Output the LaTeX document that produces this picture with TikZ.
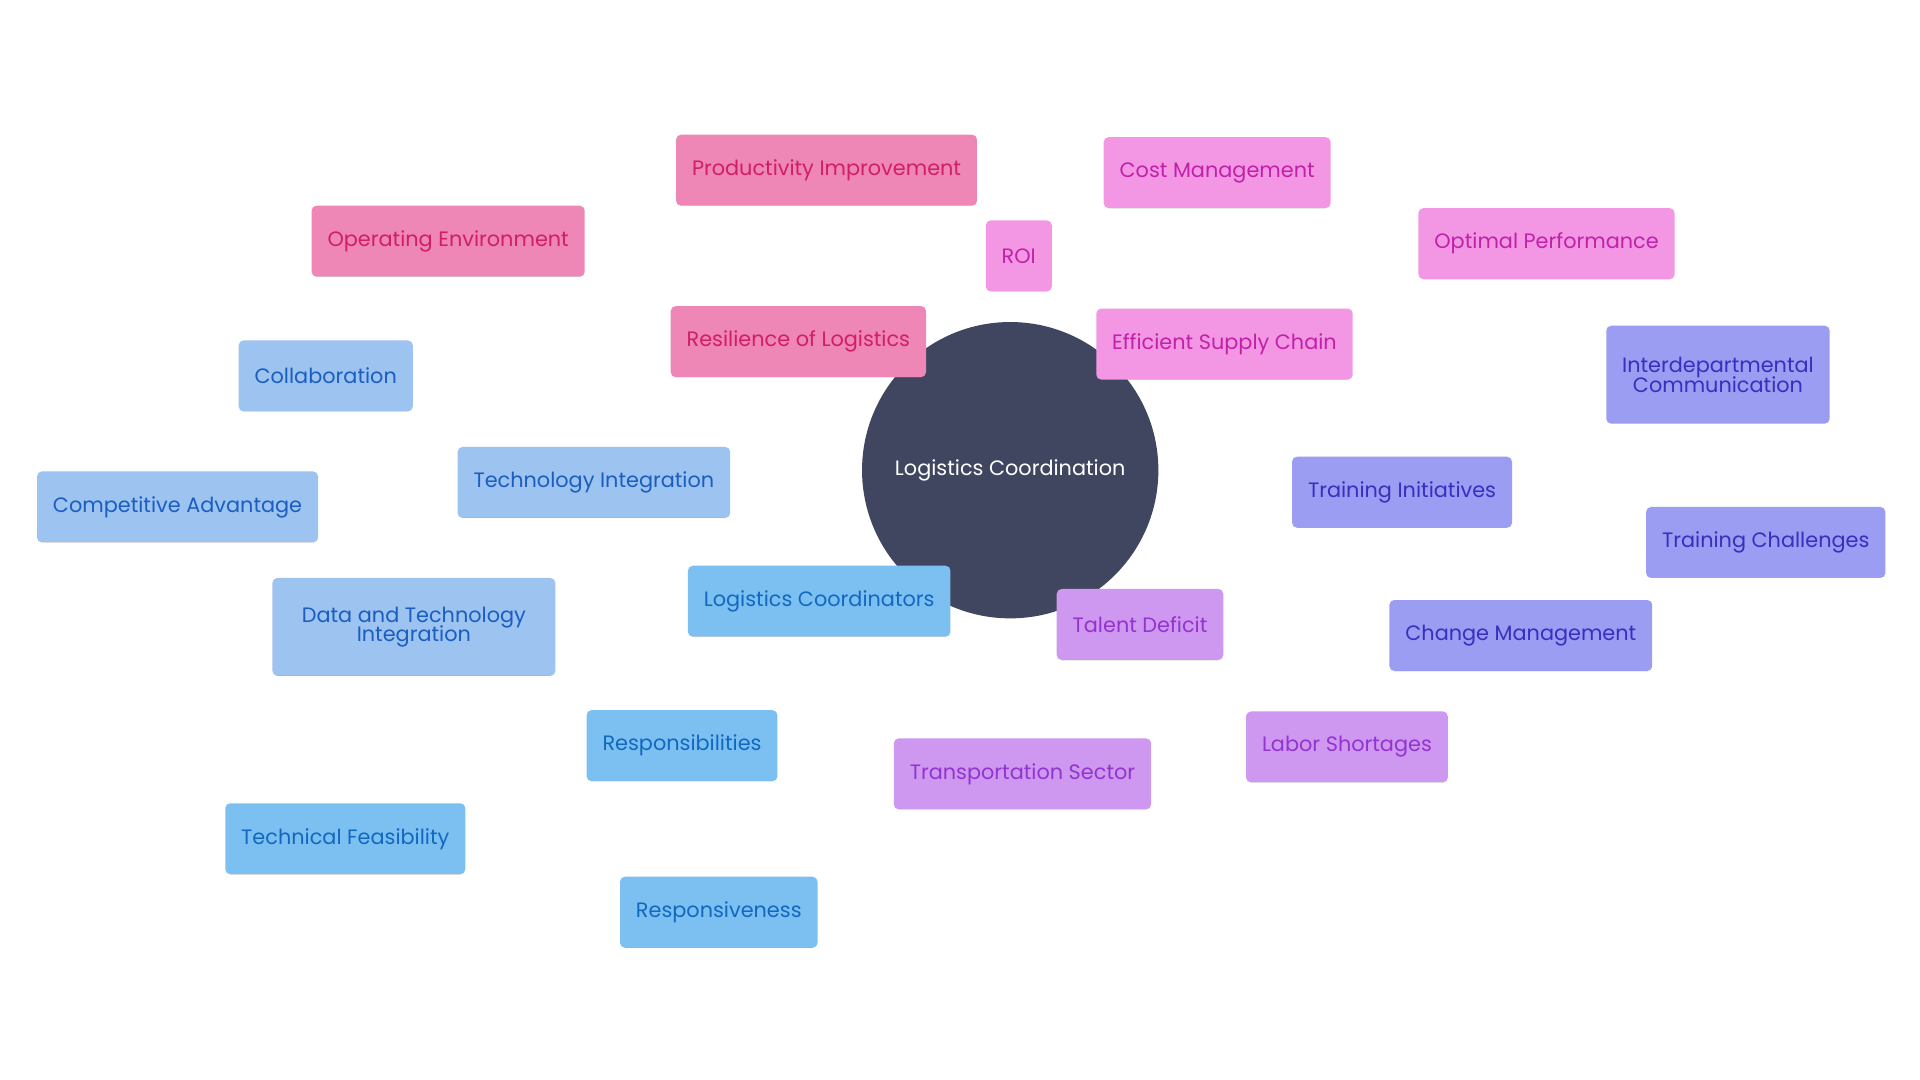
\documentclass[tikz,border=0pt]{standalone}
\usepackage{fontspec}
\setmainfont{Poppins}
\usetikzlibrary{backgrounds}
\definecolor{cc}{HTML}{404660}
\definecolor{pkF}{HTML}{EE86B6}\definecolor{pkT}{HTML}{D11E66}\definecolor{pkB}{HTML}{2BD08A}
\definecolor{mgF}{HTML}{F397E5}\definecolor{mgT}{HTML}{C021A8}\definecolor{mgB}{HTML}{22C43A}
\definecolor{vlF}{HTML}{9B9DF2}\definecolor{vlT}{HTML}{3530C0}\definecolor{vlB}{HTML}{D4C81E}
\definecolor{puF}{HTML}{CF98F0}\definecolor{puT}{HTML}{9333D0}\definecolor{puB}{HTML}{6ECC3A}
\definecolor{skF}{HTML}{7CC0F2}\definecolor{skT}{HTML}{1268C0}\definecolor{skB}{HTML}{E07A2A}
\definecolor{blF}{HTML}{9DC3F0}\definecolor{blT}{HTML}{1A5EC0}
\tikzset{
 x=1pt,y=-1pt,
 box/.style n args={3}{rectangle,rounded corners=4pt,fill=#1,text=#2,minimum height=58pt,inner xsep=13pt,
   font=\fontsize{17}{19}\selectfont,align=center,
   path picture={\fill[#3] ([yshift=-4pt]path picture bounding box.south west) rectangle (path picture bounding box.south east);}},
 pk/.style={box={pkF}{pkT}{pkB}}, mg/.style={box={mgF}{mgT}{mgB}}, vl/.style={box={vlF}{vlT}{vlB}},
 pu/.style={box={puF}{puT}{puB}}, sk/.style={box={skF}{skT}{skB}}, bl/.style={box={blF}{blT}{skB}},
 ln/.style={line width=3.5pt,draw=#1}
}
\begin{document}
\begin{tikzpicture}
\useasboundingbox (0,0) rectangle (1568,882);
\fill[white] (0,0) rectangle (1568,882);
\node[circle,fill=cc,text=white,minimum size=242pt,font=\fontsize{17}{19}\selectfont] (c) at (825,384) {Logistics Coordination};
\node[pk] (res) at (652,279) {Resilience of Logistics};
\node[pk] (pro) at (675,139) {Productivity Improvement};
\node[pk] (ope) at (366,197) {Operating Environment};
\node[mg] (eff) at (1000,281) {Efficient Supply Chain};
\node[mg] (cos) at (994,141) {Cost Management};
\node[mg] (roi) at (832,209) {ROI};
\node[mg] (opt) at (1263,199) {Optimal Performance};
\node[vl] (tri) at (1145,402) {Training Initiatives};
\node[vl,minimum height=80pt] (int) at (1403,306) {Interdepartmental\\[-3pt]Communication};
\node[vl] (trc) at (1442,443) {Training Challenges};
\node[vl] (chm) at (1242,519) {Change Management};
\node[pu] (tal) at (931,510) {Talent Deficit};
\node[pu] (tra) at (835,632) {Transportation Sector};
\node[pu] (lab) at (1100,610) {Labor Shortages};
\node[sk] (lco) at (669,491) {Logistics Coordinators};
\node[sk] (rsp) at (557,609) {Responsibilities};
\node[sk] (tec) at (282,685) {Technical Feasibility};
\node[sk] (rsv) at (587,745) {Responsiveness};
\node[bl] (tin) at (485,394) {Technology Integration};
\node[bl] (col) at (266,307) {Collaboration};
\node[bl] (com) at (145,414) {Competitive Advantage};
\node[bl,minimum height=80pt,minimum width=231pt] (dat) at (338,512) {Data and Technology\\[-3pt]Integration};
\begin{scope}[on background layer]
\draw[ln=pkF] (c)--(res) (res)--(pro) (res)--(ope);
\draw[ln=mgF] (c)--(eff) (eff)--(cos) (eff)--(roi) (eff)--(opt);
\draw[ln=vlF] (c)--(tri) (tri)--(int) (tri)--(trc) (tri)--(chm);
\draw[ln=puF] (c)--(tal) (tal)--(tra) (tal)--(lab);
\draw[ln=skF] (c)--(lco) (lco)--(rsp) (rsp)--(tec) (rsp)--(rsv);
\draw[ln=blF] (c)--(tin) (tin)--(col) (tin)--(com) (tin)--(dat);
\end{scope}
\end{tikzpicture}
\end{document}
